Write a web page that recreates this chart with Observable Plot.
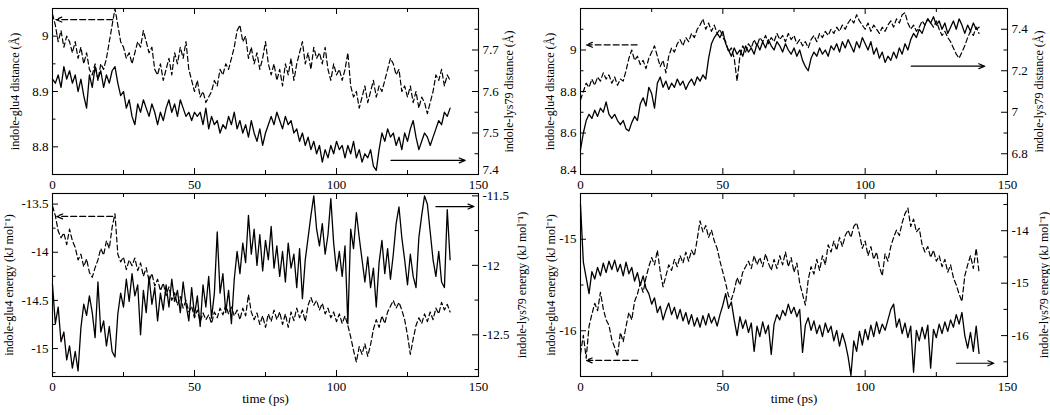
<!DOCTYPE html>
<html>
<head>
<meta charset="utf-8">
<script src="https://cdn.jsdelivr.net/npm/d3@7"></script>
<script src="https://cdn.jsdelivr.net/npm/@observablehq/plot@0.6"></script>
<style>
  html, body { margin: 0; padding: 0; background: #fff; }
  #chart { position: relative; width: 1050px; height: 415px; background: #fff; overflow: hidden; }
  #chart svg { position: absolute; left: 0; top: 0; font-family: "Liberation Serif", "Times New Roman", serif !important; }
  #chart svg text { font-family: "Liberation Serif", "Times New Roman", serif !important; }
</style>
</head>
<body>
<div id="chart"></div>
<script>
// ---------- time axis (ps) ----------
const time = d3.range(0, 141);
const timeTicks = [0, 50, 100, 150];
const timeMinor = [25, 75, 125];

// ---------- top-left: distances ----------
const tlGlu4 = [
9.04,9.02,8.99,9.01,8.98,9.00,8.99,8.97,8.99,8.96,
8.98,8.95,8.97,8.94,8.93,8.95,8.92,8.95,8.94,8.96,
8.99,9.02,9.05,9.02,8.99,8.98,8.96,8.97,8.95,8.97,
8.99,8.98,9.01,8.99,8.97,8.98,8.94,8.93,8.95,8.92,
8.94,8.96,8.93,8.97,8.95,8.98,8.96,8.99,8.94,8.92,
8.90,8.92,8.89,8.90,8.88,8.89,8.90,8.92,8.91,8.94,
8.93,8.95,8.94,8.96,8.98,9.01,9.02,8.99,9.00,8.96,
8.98,8.95,8.97,8.94,8.96,8.99,8.95,8.93,8.95,8.92,
8.94,8.91,8.95,8.93,8.96,8.92,8.95,8.97,8.99,8.95,
8.97,8.94,8.98,8.96,8.97,8.95,8.98,8.94,8.92,8.95,
8.93,8.94,8.92,8.94,8.97,8.91,8.89,8.90,8.87,8.89,
8.91,8.88,8.90,8.92,8.89,8.91,8.90,8.92,8.94,8.96,
8.95,8.93,8.94,8.90,8.91,8.89,8.91,8.88,8.90,8.87,
8.89,8.88,8.86,8.88,8.90,8.93,8.92,8.94,8.91,8.93,
8.92];
const tlLys79 = [
7.63,7.62,7.64,7.61,7.66,7.63,7.65,7.62,7.64,7.60,
7.63,7.59,7.56,7.64,7.61,7.66,7.63,7.65,7.61,7.64,
7.62,7.65,7.66,7.62,7.59,7.60,7.56,7.58,7.54,7.52,
7.57,7.55,7.58,7.56,7.54,7.57,7.55,7.52,7.55,7.53,
7.56,7.58,7.55,7.57,7.54,7.58,7.56,7.54,7.55,7.53,
7.55,7.54,7.55,7.52,7.56,7.51,7.54,7.52,7.53,7.50,
7.52,7.51,7.54,7.52,7.55,7.51,7.53,7.50,7.52,7.49,
7.53,7.50,7.48,7.51,7.47,7.50,7.52,7.54,7.52,7.55,
7.53,7.51,7.54,7.52,7.53,7.50,7.51,7.48,7.50,7.47,
7.49,7.46,7.48,7.45,7.47,7.43,7.46,7.44,7.47,7.45,
7.48,7.46,7.47,7.44,7.47,7.45,7.48,7.44,7.46,7.43,
7.45,7.44,7.46,7.42,7.41,7.46,7.50,7.48,7.51,7.49,
7.50,7.47,7.49,7.46,7.50,7.48,7.51,7.53,7.49,7.46,
7.48,7.50,7.49,7.47,7.49,7.51,7.53,7.52,7.55,7.54,
7.56];

// ---------- top-right: distances ----------
const trGlu4 = [
8.76,8.80,8.84,8.82,8.86,8.83,8.87,8.85,8.89,8.86,
8.88,8.84,8.87,8.83,8.86,8.85,8.90,8.96,9.00,8.95,
8.97,8.93,8.95,8.91,8.96,8.99,9.02,8.97,8.92,8.95,
8.89,8.97,9.01,8.99,9.03,9.05,9.02,9.06,9.04,9.08,
9.06,9.10,9.12,9.15,9.10,9.13,9.09,9.12,9.08,9.10,
9.06,9.04,8.99,9.01,8.96,8.85,8.97,9.02,8.99,9.03,
9.01,9.05,9.02,9.06,9.04,9.07,9.03,9.06,9.04,9.08,
9.05,9.07,9.04,9.08,9.05,9.07,9.03,9.05,9.02,9.04,
9.01,9.05,9.07,9.04,9.08,9.06,9.09,9.07,9.10,9.08,
9.11,9.09,9.12,9.10,9.13,9.15,9.13,9.17,9.14,9.12,
9.10,9.13,9.09,9.12,9.10,9.08,9.11,9.09,9.12,9.14,
9.11,9.15,9.13,9.17,9.18,9.13,9.10,9.12,9.09,9.11,
9.14,9.12,9.15,9.13,9.11,9.14,9.10,9.07,9.09,9.06,
9.04,9.01,8.98,8.96,8.99,9.02,9.06,9.09,9.07,9.11,
9.08];
const trLys79 = [
6.82,6.90,6.96,6.99,6.97,7.01,6.98,7.02,7.00,7.05,
6.99,6.97,6.99,6.96,6.94,6.96,6.92,6.91,6.95,6.98,
6.96,7.04,7.07,7.03,7.12,7.09,7.02,7.14,7.17,7.12,
7.15,7.11,7.14,7.12,7.16,7.13,7.15,7.11,7.14,7.16,
7.13,7.17,7.15,7.18,7.16,7.26,7.33,7.36,7.38,7.36,
7.39,7.33,7.30,7.27,7.31,7.28,7.30,7.27,7.32,7.29,
7.31,7.28,7.33,7.30,7.34,7.31,7.35,7.32,7.30,7.34,
7.32,7.29,7.33,7.30,7.28,7.31,7.27,7.30,7.25,7.22,
7.20,7.26,7.29,7.27,7.31,7.28,7.30,7.27,7.32,7.30,
7.33,7.29,7.34,7.31,7.35,7.32,7.29,7.34,7.31,7.36,
7.33,7.30,7.34,7.28,7.31,7.26,7.29,7.24,7.27,7.25,
7.29,7.26,7.31,7.28,7.33,7.30,7.35,7.38,7.36,7.40,
7.38,7.42,7.45,7.43,7.46,7.42,7.44,7.40,7.43,7.38,
7.41,7.44,7.40,7.45,7.42,7.38,7.42,7.39,7.43,7.40,
7.41];

// ---------- bottom-left: energies ----------
const blGlu4 = [
-13.52,-13.62,-13.78,-13.85,-13.80,-13.92,-13.76,-13.88,-13.95,-14.08,
-14.02,-14.15,-14.07,-14.21,-14.26,-14.16,-14.08,-13.96,-14.03,-13.88,
-13.96,-13.74,-13.60,-14.02,-14.10,-14.05,-14.18,-14.08,-14.14,-14.06,
-14.19,-14.11,-14.25,-14.16,-14.30,-14.22,-14.35,-14.28,-14.40,-14.32,
-14.45,-14.36,-14.50,-14.42,-14.55,-14.46,-14.58,-14.50,-14.62,-14.56,
-14.68,-14.60,-14.72,-14.63,-14.70,-14.65,-14.74,-14.62,-14.68,-14.58,
-14.65,-14.55,-14.64,-14.57,-14.66,-14.60,-14.70,-14.58,-14.66,-14.44,
-14.62,-14.70,-14.63,-14.75,-14.66,-14.78,-14.64,-14.72,-14.60,-14.70,
-14.62,-14.75,-14.64,-14.78,-14.62,-14.71,-14.58,-14.68,-14.60,-14.72,
-14.55,-14.47,-14.55,-14.50,-14.60,-14.53,-14.64,-14.58,-14.68,-14.62,
-14.72,-14.64,-14.74,-14.66,-14.76,-14.88,-15.02,-15.14,-14.98,-15.06,
-14.95,-15.08,-14.96,-14.80,-14.70,-14.78,-14.66,-14.74,-14.62,-14.56,
-14.50,-14.58,-14.52,-14.60,-14.70,-14.86,-15.06,-14.90,-14.76,-14.68,
-14.74,-14.64,-14.72,-14.62,-14.70,-14.58,-14.64,-14.52,-14.60,-14.54,
-14.62];
const blLys79 = [
-12.14,-12.42,-12.30,-12.55,-12.48,-12.68,-12.58,-12.74,-12.62,-12.76,
-12.45,-12.28,-12.36,-12.22,-12.34,-12.52,-12.12,-12.48,-12.40,-12.58,
-12.44,-12.62,-12.66,-12.35,-12.20,-12.30,-12.10,-12.26,-12.06,-12.22,
-12.14,-12.50,-12.18,-12.34,-12.08,-12.28,-12.16,-12.40,-12.20,-12.32,
-12.14,-12.30,-12.10,-12.26,-12.18,-12.34,-12.12,-12.28,-12.40,-12.16,
-12.36,-12.22,-12.44,-12.14,-12.30,-12.08,-12.38,-12.20,-11.76,-12.20,
-12.06,-12.34,-12.18,-12.42,-12.10,-11.90,-12.06,-11.84,-11.98,-11.64,
-11.92,-11.74,-12.00,-11.78,-12.04,-11.82,-11.96,-11.72,-12.02,-11.86,
-12.08,-11.90,-12.12,-11.84,-12.02,-11.92,-12.16,-11.88,-12.24,-11.96,
-11.80,-11.64,-11.50,-11.74,-11.86,-11.70,-11.92,-11.78,-11.52,-11.84,
-12.04,-11.90,-12.08,-11.86,-12.42,-11.74,-11.88,-11.62,-11.80,-11.96,
-12.12,-11.94,-12.16,-12.02,-12.30,-11.98,-11.82,-12.06,-11.88,-12.10,
-11.92,-11.70,-11.58,-11.80,-11.96,-12.14,-11.92,-12.08,-12.16,-11.80,
-11.64,-11.50,-11.56,-11.76,-11.96,-12.08,-11.90,-12.12,-12.16,-11.60,
-11.96];

// ---------- bottom-right: energies ----------
const brGlu4 = [
-16.25,-16.05,-16.30,-15.95,-15.82,-15.70,-15.78,-15.58,-15.76,-15.88,
-15.94,-16.10,-16.18,-16.28,-16.02,-16.12,-15.95,-15.80,-15.88,-15.68,
-15.60,-15.48,-15.58,-15.42,-15.30,-15.20,-15.28,-15.12,-15.35,-15.52,
-15.40,-15.28,-15.34,-15.22,-15.30,-15.18,-15.26,-15.14,-15.24,-15.12,
-15.18,-15.00,-14.80,-14.92,-14.85,-14.98,-14.90,-15.02,-15.10,-15.24,
-15.36,-15.48,-15.62,-15.66,-15.56,-15.42,-15.50,-15.36,-15.30,-15.24,
-15.32,-15.18,-15.28,-15.20,-15.30,-15.16,-15.26,-15.34,-15.22,-15.32,
-15.18,-15.28,-15.14,-15.30,-15.20,-15.36,-15.26,-15.48,-15.60,-15.72,
-15.44,-15.30,-15.38,-15.22,-15.34,-15.18,-15.28,-15.06,-15.14,-15.02,
-15.12,-14.98,-15.08,-14.96,-14.90,-14.98,-14.86,-14.82,-14.94,-15.10,
-15.02,-15.18,-15.08,-15.22,-15.14,-15.30,-15.40,-15.16,-15.24,-15.08,
-14.98,-14.90,-14.96,-14.82,-14.72,-14.66,-14.86,-14.78,-14.92,-14.88,
-15.06,-15.14,-15.08,-15.20,-15.12,-15.24,-15.18,-15.30,-15.22,-15.36,
-15.28,-15.42,-15.50,-15.60,-15.68,-15.40,-15.28,-15.18,-15.32,-15.10,
-15.36];
const brLys79 = [
-13.50,-14.60,-14.90,-15.20,-14.78,-14.92,-14.70,-14.86,-14.62,-14.80,
-14.58,-14.74,-14.56,-14.78,-14.64,-14.86,-14.60,-14.82,-14.70,-14.96,
-14.80,-15.04,-14.86,-15.10,-15.20,-15.40,-15.28,-15.56,-15.44,-15.70,
-15.52,-15.38,-15.60,-15.46,-15.68,-15.50,-15.72,-15.56,-15.78,-15.60,
-15.82,-15.66,-15.84,-15.62,-15.80,-15.58,-15.76,-15.64,-15.82,-15.60,
-15.42,-15.20,-15.48,-15.36,-15.70,-16.00,-15.64,-15.86,-15.70,-15.94,
-15.76,-16.30,-15.82,-16.02,-15.74,-15.96,-15.80,-16.36,-15.78,-15.60,
-15.70,-15.52,-15.62,-15.40,-15.58,-15.46,-15.64,-15.50,-16.32,-15.80,
-15.66,-15.90,-15.72,-15.96,-15.80,-16.02,-15.76,-15.94,-15.82,-16.10,
-15.90,-16.20,-15.96,-16.14,-16.40,-16.76,-16.10,-16.30,-15.92,-16.18,
-15.88,-16.08,-15.80,-16.02,-15.74,-15.96,-15.78,-15.90,-15.70,-15.50,
-15.40,-15.84,-15.68,-15.96,-15.76,-16.04,-15.82,-16.70,-15.90,-16.10,
-15.84,-16.06,-15.80,-16.62,-15.88,-16.04,-15.78,-15.96,-15.74,-15.92,
-15.70,-15.84,-15.60,-15.78,-15.56,-16.00,-16.24,-15.94,-16.30,-15.82,
-16.34];

// ---------- axis ticks ----------
const tlLeftTicks = [8.8, 8.9, 9],      tlLeftMinor = [8.75, 8.85, 8.95, 9.05];
const tlRightTicks = [7.5, 7.6, 7.7],   tlRightEdge = [7.4], tlRightMinor = [7.45, 7.55, 7.65, 7.75];
const trLeftTicks = [8.6, 8.8, 9],      trLeftEdge = [8.4], trLeftMinor = [8.5, 8.7, 8.9, 9.1];
const trRightTicks = [6.8, 7, 7.2, 7.4], trRightMinor = [6.9, 7.1, 7.3];
const blLeftTicks = [-15, -14.5, -14, -13.5], blLeftMinor = [-15.25, -14.75, -14.25, -13.75];
const blRightTicks = [-12.5, -12, -11.5], blRightMinor = [-12.75, -12.25, -11.75];
const brLeftTicks = [-16, -15], brLeftMinor = [-16.5, -15.5, -14.5];
const brRightTicks = [-16, -15, -14], brRightMinor = [-16.5, -15.5, -14.5, -13.5];

// ---------- arrows (which axis each curve uses), in data units ----------
const tlGlu4Arrow  = [{x1: 21.2, y1: 9.030,  x2: 1.2,   y2: 9.030}];
const tlLys79Arrow = [{x1: 119.2, y1: 7.434, x2: 145.3, y2: 7.434}];
const trGlu4Arrow  = [{x1: 19.9, y1: 9.025,  x2: 2.1,   y2: 9.025}];
const trLys79Arrow = [{x1: 116.2, y1: 7.222, x2: 142.0, y2: 7.222}];
const blGlu4Arrow  = [{x1: 21.2, y1: -13.628, x2: 1.5,  y2: -13.628}];
const blLys79Arrow = [{x1: 135.0, y1: -11.577, x2: 148.4, y2: -11.577}];
const brGlu4Arrow  = [{x1: 20.1, y1: -16.324, x2: 2.0,  y2: -16.324}];
const brLys79Arrow = [{x1: 132.1, y1: -16.527, x2: 145.2, y2: -16.527}];

// ---------- layout ----------
const W = 1050, H = 415;
const panels = [
  { fx: [52, 478], fy: [8, 174], timeLabel: false,
    left:  { domain: [8.75, 9.05], major: tlLeftTicks, edge: [], minor: tlLeftMinor, label: "indole-glu4 distance (Å)", offset: 42, series: tlGlu4, arrow: tlGlu4Arrow },
    right: { domain: [7.4, 7.8], major: tlRightTicks, edge: tlRightEdge, minor: tlRightMinor, label: "indole-lys79 distance (Å)", offset: 34, series: tlLys79, arrow: tlLys79Arrow } },
  { fx: [580, 1007], fy: [8, 174], timeLabel: false,
    left:  { domain: [8.4, 9.2], major: trLeftTicks, edge: trLeftEdge, minor: trLeftMinor, label: "indole-glu4 distance (Å)", offset: 35, series: trGlu4, arrow: trGlu4Arrow },
    right: { domain: [6.7, 7.5], major: trRightTicks, edge: [], minor: trRightMinor, label: "indole-lys79 distance (Å)", offset: 35, series: trLys79, arrow: trLys79Arrow } },
  { fx: [52, 478], fy: [193, 376], timeLabel: true,
    left:  { domain: [-15.29, -13.39], major: blLeftTicks, edge: [], minor: blLeftMinor, label: "indole-glu4 energy (kJ mol⁻¹)", offset: 48, series: blGlu4, arrow: blGlu4Arrow },
    right: { domain: [-12.8, -11.483], major: blRightTicks, edge: [], minor: blRightMinor, label: "indole-lys79 energy (kJ mol⁻¹)", offset: 47, series: blLys79, arrow: blLys79Arrow } },
  { fx: [580, 1007], fy: [193, 376], timeLabel: true,
    left:  { domain: [-16.5, -14.5], major: brLeftTicks, edge: [], minor: brLeftMinor, label: "indole-glu4 energy (kJ mol⁻¹)", offset: 34, series: brGlu4, arrow: brGlu4Arrow },
    right: { domain: [-16.78, -13.29], major: brRightTicks, edge: [], minor: brRightMinor, label: "indole-lys79 energy (kJ mol⁻¹)", offset: 40, series: brLys79, arrow: brLys79Arrow } }
];

const svgStyle = "font-family:'Liberation Serif','Times New Roman',serif;font-size:13px;background:transparent;overflow:visible;color:#000;";
const fmt = d => String(d);

function buildSide(p, s, anchor) {
  const isLeft = anchor === "left";
  const [x0, x1] = p.fx, [y0, y1] = p.fy;
  const pw = x1 - x0, ph = y1 - y0;
  const data = s.series.map((v, i) => ({t: time[i], v}));
  const marks = [];
  const inset = isLeft ? "insetRight" : "insetLeft";
  const allMajor = s.major.concat(s.edge);
  marks.push(Plot.tickY(allMajor, {y: d => d, stroke: "#000", strokeWidth: 1, [inset]: pw - 6}));
  marks.push(Plot.tickY(s.minor, {y: d => d, stroke: "#000", strokeWidth: 1, [inset]: pw - 3.5}));
  // tick labels
  marks.push(Plot.axisY(s.major, {anchor, tickSize: 0, tickPadding: 4, tickFormat: fmt, label: null, fontSize: 13}));
  // value at the very bottom corner, lifted a little clear of the time labels
  if (s.edge.length) marks.push(Plot.axisY(s.edge, {anchor, tickSize: 0, tickPadding: 4, tickFormat: fmt, label: null, fontSize: 13, dy: -5}));
  // axis title
  marks.push(Plot.axisY([], {anchor, tickSize: 0, label: s.label, labelAnchor: "center",
    labelOffset: s.offset, labelArrow: "none", fontSize: 12}));
  marks.push(Plot.line(data, {x: "t", y: "v", stroke: "#000",
    strokeWidth: isLeft ? 1.2 : 1.3, strokeDasharray: isLeft ? "5,3" : null}));
  marks.push(Plot.arrow(s.arrow, {x1: "x1", y1: "y1", x2: "x2", y2: "y2", stroke: "#000",
    strokeWidth: 1.2, headLength: 8, headAngle: 45, strokeDasharray: isLeft ? "6,3" : null}));
  if (isLeft) {
    marks.push(Plot.frame({stroke: "#000", strokeWidth: 1.1}));
    marks.push(Plot.tickX(timeTicks, {x: d => d, stroke: "#000", insetBottom: ph - 6}));
    marks.push(Plot.tickX(timeMinor, {x: d => d, stroke: "#000", insetBottom: ph - 4}));
    marks.push(Plot.tickX(timeTicks, {x: d => d, stroke: "#000", insetTop: ph - 6}));
    marks.push(Plot.tickX(timeMinor, {x: d => d, stroke: "#000", insetTop: ph - 4}));
    marks.push(Plot.axisX(timeTicks, {anchor: "bottom", tickSize: 0, tickPadding: 5, tickFormat: fmt, label: null, fontSize: 13}));
    if (p.timeLabel) {
      marks.push(Plot.axisX([], {anchor: "bottom", tickSize: 0, label: "time (ps)", labelAnchor: "center",
        labelOffset: 26, labelArrow: "none", fontSize: 13}));
    }
  }
  return Plot.plot({
    width: W, height: H,
    marginLeft: x0, marginRight: W - x1, marginTop: y0, marginBottom: H - y1,
    x: {domain: [0, 150], axis: isLeft ? undefined : null},
    y: {domain: s.domain},
    style: svgStyle,
    marks
  });
}

const chart = document.getElementById("chart");
for (const p of panels) {
  chart.appendChild(buildSide(p, p.left, "left"));
  chart.appendChild(buildSide(p, p.right, "right"));
}
</script>
</body>
</html>
